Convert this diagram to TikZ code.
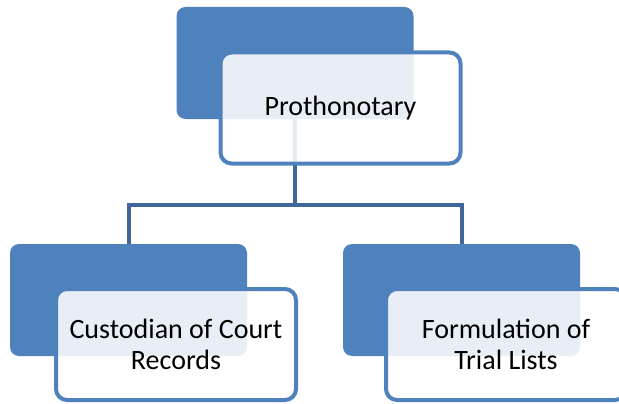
\documentclass[tikz,border=0pt]{standalone}
\usepackage{fontspec}
\setmainfont{Carlito}
\usetikzlibrary{backgrounds}
\definecolor{boxblue}{RGB}{79,129,189}
\definecolor{linkblue}{RGB}{65,103,154}
\begin{document}
\begin{tikzpicture}[x=1pt,y=-1pt,
  darkbox/.style={rectangle, rounded corners=9pt, fill=boxblue, draw=none,
    minimum width=237pt, minimum height=112pt, inner sep=0pt},
  lightbox/.style={rectangle, rounded corners=11pt, fill=white, fill opacity=0.87,
    text opacity=1, draw=boxblue, line width=4pt,
    minimum width=240pt, minimum height=111pt, inner sep=0pt, align=center,
    font=\fontsize{28}{31.5}\selectfont, text=black},
  link/.style={draw=linkblue, line width=4pt}]
\useasboundingbox (0,0) rectangle (619,404);
\clip (0,0) rectangle (619,404);
\node[darkbox] (td) at (295,63) {};
\node[darkbox] (ld) at (128.5,300) {};
\node[darkbox] (rd) at (461.5,300) {};
\coordinate (hbar) at (0,205);
\begin{pgfonlayer}{background}
\draw[link] (td.center) -- (td.center |- hbar) -| (ld.center);
\draw[link] (td.center |- hbar) -| (rd.center);
\end{pgfonlayer}
\node[lightbox] (t) at (340.5,108) {Prothonotary};
\node[lightbox] (l) at (176,344.5) {Custodian of Court\\Records};
\node[lightbox] (r) at (506,344.5) {Formulation of\\Trial Lists};
\end{tikzpicture}
\end{document}
